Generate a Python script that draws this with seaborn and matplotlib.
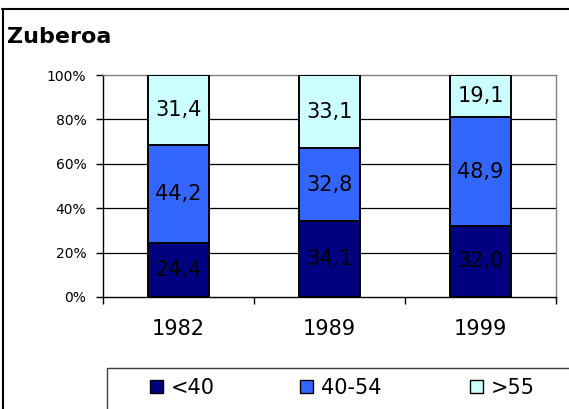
import matplotlib
matplotlib.use("Agg")
import matplotlib.pyplot as plt
from matplotlib.lines import Line2D
from matplotlib.patches import Patch
import seaborn as sns
import pandas as pd

# Age structure of Zuberoa, share of each age group (%)
years = ["1982", "1989", "1999"]
under_40 = [24.4, 34.1, 32.0]
from_40_to_54 = [44.2, 32.8, 48.9]
over_55 = [31.4, 33.1, 19.1]
group_names = ["<40", "40-54", ">55"]
group_colors = ["#000080", "#3366FF", "#CCFFFF"]
y_ticks = [0, 20, 40, 60, 80, 100]

sns.set_theme(style="white")
plt.rcParams["font.family"] = ["DejaVu Sans"]
plt.rcParams["text.color"] = "black"
plt.rcParams["xtick.color"] = "black"
plt.rcParams["ytick.color"] = "black"

W, H = 569, 409
fig = plt.figure(figsize=(W / 100, H / 100), dpi=100)
fig.patch.set_facecolor("white")
ax = fig.add_axes([103 / W, 112 / H, 453 / W, 222 / H])

df = pd.DataFrame({"year": years, "<40": under_40, "40-54": from_40_to_54, ">55": over_55})

bottom = [0.0] * len(years)
for name, color in zip(group_names, group_colors):
    sns.barplot(data=df, x="year", y=name, color=color, saturation=1, width=0.41,
                edgecolor="black", linewidth=1.4, bottom=bottom, ax=ax, zorder=3)
    cont = ax.containers[-1]
    ax.bar_label(cont, labels=[f"{v:.1f}".replace(".", ",") for v in df[name]],
                 label_type="center", fontsize=15, color="black")
    bottom = [b + v for b, v in zip(bottom, df[name])]

ax.set_xlim(-0.5, 2.5)
ax.set_ylim(0, 100)
ax.set_yticks(y_ticks)
ax.set_yticklabels([f"{t}%" for t in y_ticks])
ax.set_xlabel("")
ax.set_ylabel("")

# Horizontal gridlines
for t in y_ticks[1:-1]:
    ax.axhline(t, color="black", lw=0.9, zorder=1)

ax.tick_params(axis="y", which="major", direction="out", length=5, width=1,
               color="black", pad=7, labelsize=10, left=True, labelcolor="black")
ax.tick_params(axis="x", which="major", length=0, pad=16, labelsize=15, labelcolor="black")
ax.set_xticks([-0.5, 0.5, 1.5, 2.5], minor=True)
ax.tick_params(axis="x", which="minor", direction="out", length=5, width=1,
               color="black", bottom=True)

for side in ["left", "bottom"]:
    ax.spines[side].set_color("black")
    ax.spines[side].set_linewidth(1)
for side in ["top", "right"]:
    ax.spines[side].set_color("#808080")
    ax.spines[side].set_linewidth(1)

# Title
fig.text(7 / W, 1 - 43 / H, "Zuberoa", fontsize=16, fontweight="bold",
         color="black", ha="left", va="baseline")

# Outer chart frame (left and top edges)
x_end = (W - 0.5) / W
y_end = 0.5 / H
fig.add_artist(Line2D([2.5 / W, 2.5 / W], [y_end, 1 - 9 / H], color="black", lw=1.5,
                      transform=fig.transFigure))
fig.add_artist(Line2D([2 / W, x_end], [1 - 9 / H, 1 - 9 / H], color="black", lw=1.5,
                      transform=fig.transFigure))

# Legend frame (left and top edges)
fig.add_artist(Line2D([107 / W, 107 / W], [y_end, 1 - 368 / H], color="#404040", lw=1,
                      transform=fig.transFigure))
fig.add_artist(Line2D([107 / W, x_end], [1 - 368 / H, 1 - 368 / H], color="#404040", lw=1,
                      transform=fig.transFigure))

# One legend entry per age group
entry_x = [150, 300, 470]
for name, color, x in zip(group_names, group_colors, entry_x):
    handle = Patch(facecolor=color, edgecolor="black", linewidth=1)
    leg = fig.legend([handle], [name], loc="center left",
                     bbox_to_anchor=(x / W, 1 - 388 / H), frameon=False, fontsize=15,
                     handlelength=0.6, handleheight=0.6, handletextpad=0.4,
                     borderpad=0, borderaxespad=0)
    for txt in leg.get_texts():
        txt.set_color("black")

fig.savefig("out.png", dpi=100)
